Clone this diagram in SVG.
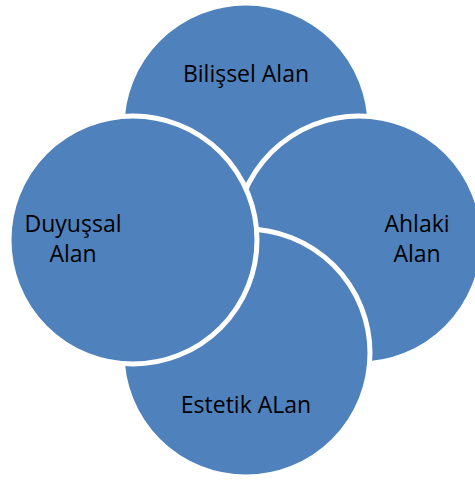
<svg xmlns="http://www.w3.org/2000/svg" width="475" height="482" viewBox="0 0 475 482">
<style>
.c{fill:#4F81BD;stroke:#FFFFFF;stroke-width:5}
.t{font-family:"Open Sans","Liberation Sans",sans-serif;font-size:23px;fill:#000000;text-anchor:middle}
</style>
<rect width="475" height="482" fill="#FFFFFF"/>
<g id="bilissel">
<circle class="c" cx="246" cy="127" r="124"/>
<text class="t" x="246" y="82">Bilişsel Alan</text>
</g>
<g id="ahlaki">
<circle class="c" cx="359" cy="240" r="124"/>
<text class="t" x="417" y="232">Ahlaki</text>
<text class="t" x="417" y="262">Alan</text>
</g>
<g id="estetik">
<circle class="c" cx="246" cy="353" r="124"/>
<text class="t" x="246" y="413">Estetik ALan</text>
</g>
<g id="duyussal">
<circle class="c" cx="133" cy="240" r="124"/>
<text class="t" x="73" y="232">Duyuşsal</text>
<text class="t" x="73" y="262">Alan</text>
</g>
<g id="connectors"/>
</svg>
